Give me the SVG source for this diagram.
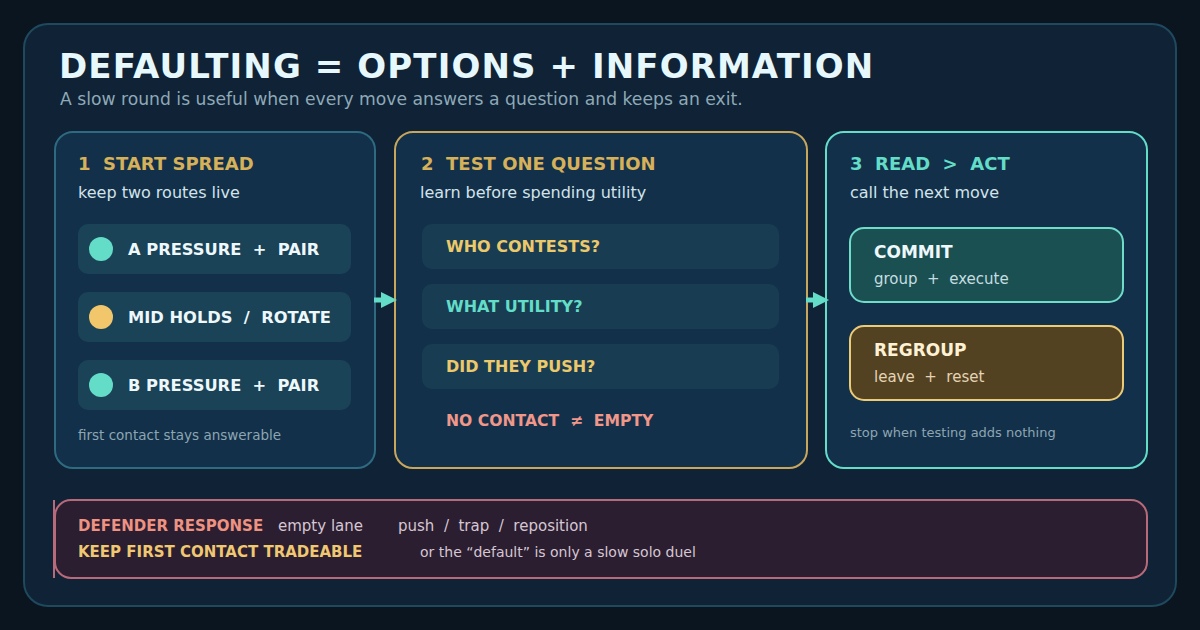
<svg xmlns="http://www.w3.org/2000/svg" width="1200" height="630" viewBox="0 0 1200 630">
<defs>
<style>
text{white-space:pre}
.h{font-family:"DejaVu Sans",Verdana,sans-serif;font-weight:bold}
.r{font-family:"DejaVu Sans",Verdana,sans-serif}
.card{fill:#12304a;stroke-width:2}
.row1{fill:#1a4358}
.row2{fill:#183d52}
.lbl{font-size:16.3px;fill:#eef8fb}
.sub{font-size:16px;fill:#d3e3ea}
.foot{font-size:13.5px;fill:#8da6b2}
.bt{font-size:15px;fill:#d7c6d3}
</style>
<marker id="ah" viewBox="0 0 10 10" refX="5" refY="5" markerWidth="3.2" markerHeight="3.2" orient="auto" markerUnits="strokeWidth"><path d="M0 0L10 5L0 10z" fill="#63dcc8"/></marker>
</defs>
<rect width="1200" height="630" fill="#0a1520"/>
<rect x="24" y="24" width="1152" height="582" rx="24" fill="#0f2236" stroke="#1f4a5e" stroke-width="2"/>
<text x="59" y="78" class="h" font-size="34" fill="#e6f8fc" letter-spacing="1.1">DEFAULTING = OPTIONS + INFORMATION</text>
<text x="60" y="105" class="r" font-size="17.2" fill="#8ea9b6">A slow round is useful when every move answers a question and keeps an exit.</text>

<g id="card1">
<rect x="55" y="132" width="320" height="336" rx="18" class="card" stroke="#2e6a80"/>
<text x="78" y="170" class="h" font-size="18" fill="#d6b15a">1  START SPREAD</text>
<text x="78" y="198" class="r sub">keep two routes live</text>
<rect x="78" y="224" width="273" height="50" rx="10" class="row1"/>
<circle cx="101" cy="249" r="12" fill="#63dcc8"/>
<text x="128" y="255" class="h lbl">A PRESSURE  +  PAIR</text>
<rect x="78" y="292" width="273" height="50" rx="10" class="row1"/>
<circle cx="101" cy="317" r="12" fill="#f2c66a"/>
<text x="128" y="323" class="h lbl">MID HOLDS  /  ROTATE</text>
<rect x="78" y="360" width="273" height="50" rx="10" class="row1"/>
<circle cx="101" cy="385" r="12" fill="#63dcc8"/>
<text x="128" y="391" class="h lbl">B PRESSURE  +  PAIR</text>
<text x="78" y="440" class="r foot">first contact stays answerable</text>
</g>

<g id="card2">
<rect x="395" y="132" width="412" height="336" rx="18" class="card" stroke="#c8a65c" fill="#16324a"/>
<text x="421" y="170" class="h" font-size="18" fill="#d6b15a">2  TEST ONE QUESTION</text>
<text x="420" y="198" class="r sub">learn before spending utility</text>
<rect x="422" y="224" width="357" height="45" rx="10" class="row2"/>
<text x="446" y="252" class="h" font-size="16" fill="#ecc96a">WHO CONTESTS?</text>
<rect x="422" y="284" width="357" height="45" rx="10" class="row2"/>
<text x="446" y="312" class="h" font-size="16" fill="#63dcc8">WHAT UTILITY?</text>
<rect x="422" y="344" width="357" height="45" rx="10" class="row2"/>
<text x="446" y="372" class="h" font-size="16" fill="#ecc96a">DID THEY PUSH?</text>
<text x="446" y="426" class="h" font-size="15.6" fill="#f0978a">NO CONTACT  ≠  EMPTY</text>
</g>

<g id="card3">
<rect x="826" y="132" width="321" height="336" rx="18" class="card" stroke="#63dcc8"/>
<text x="850" y="170" class="h" font-size="18" fill="#63dcc8">3  READ  &gt;  ACT</text>
<text x="850" y="198" class="r sub">call the next move</text>
<g id="commit">
<rect x="850" y="228" width="273" height="74" rx="14" fill="#1a5052" stroke="#6edcc8" stroke-width="2"/>
<text x="874" y="258" class="h" font-size="17" fill="#eef8fb">COMMIT</text>
<text x="874" y="284" class="r" font-size="15" fill="#c6dde0">group  +  execute</text>
</g>
<g id="regroup">
<rect x="850" y="326" width="273" height="74" rx="14" fill="#534222" stroke="#ebcb78" stroke-width="2"/>
<text x="874" y="356" class="h" font-size="17" fill="#fff1d4">REGROUP</text>
<text x="874" y="382" class="r" font-size="15" fill="#e4d3b4">leave  +  reset</text>
</g>
<text x="850" y="437" class="r" font-size="13" fill="#8da6b2">stop when testing adds nothing</text>
</g>

<g id="connectors" stroke="#63dcc8" stroke-width="5" fill="none">
<line x1="374" y1="300" x2="389" y2="300" marker-end="url(#ah)"/>
<line x1="806" y1="300" x2="821" y2="300" marker-end="url(#ah)"/>
</g>

<g id="banner">
<rect x="55" y="500" width="1092" height="78" rx="16" fill="#2a1e30" stroke="#b86a7a" stroke-width="2"/>
<line x1="54" y1="500" x2="54" y2="578" stroke="#b86a7a" stroke-width="2"/>
<text x="78" y="531" class="h" font-size="15" fill="#ee9282">DEFENDER RESPONSE</text>
<text x="278" y="531" class="r bt">empty lane</text>
<text x="398" y="531" class="r bt">push  /  trap  /  reposition</text>
<text x="78" y="557" class="h" font-size="15" fill="#f0c872">KEEP FIRST CONTACT TRADEABLE</text>
<text x="420" y="557" class="r" font-size="14" fill="#d7c6d3">or the “default” is only a slow solo duel</text>
</g>
</svg>
